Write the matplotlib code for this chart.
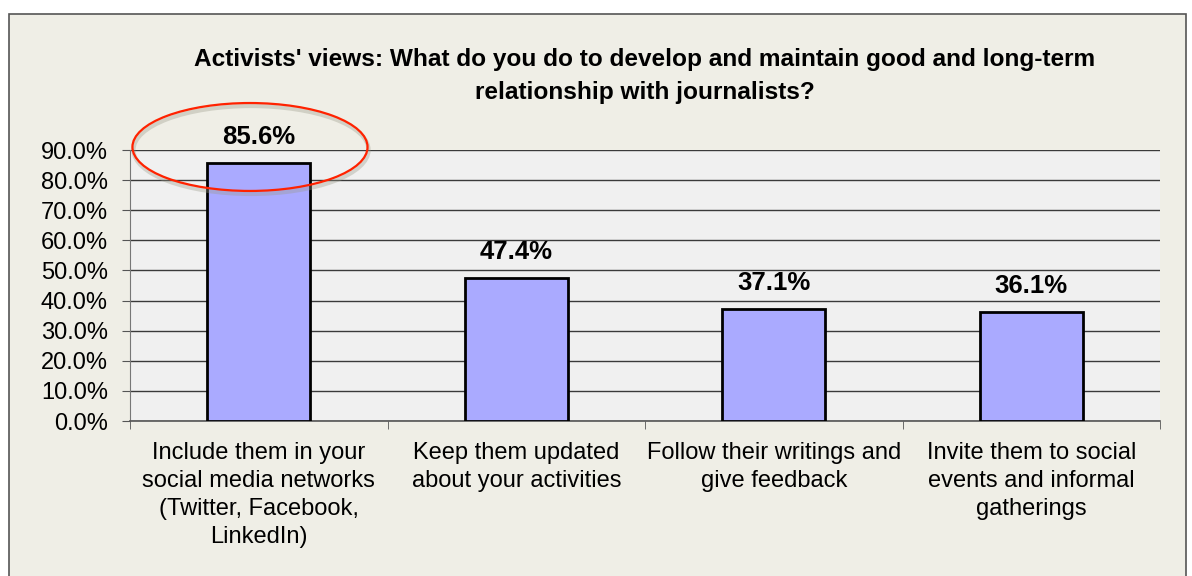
import matplotlib.pyplot as plt
from matplotlib.patches import Ellipse, Rectangle
from matplotlib.ticker import FuncFormatter, MultipleLocator

plt.rcParams['font.family'] = ['Liberation Sans', 'DejaVu Sans']

# ---------------- data ----------------
categories = [
    "Include them in your\nsocial media networks\n(Twitter, Facebook,\nLinkedIn)",
    "Keep them updated\nabout your activities",
    "Follow their writings and\ngive feedback",
    "Invite them to social\nevents and informal\ngatherings",
]
shares = [85.6, 47.4, 37.1, 36.1]
value_labels = ["85.6%", "47.4%", "37.1%", "36.1%"]

title = ("Activists' views: What do you do to develop and maintain good and long-term\n"
         "relationship with journalists?")

# ---------------- figure ----------------
fig = plt.figure(figsize=(11.92, 5.76), dpi=100)
fig.patch.set_facecolor("white")

# beige chart frame, kept behind the axes
frame = Rectangle((9 / 1192, -0.05), 1177 / 1192, 1.05 - 14 / 576,
                  transform=fig.transFigure, facecolor="#efeee6",
                  edgecolor="#555555", linewidth=1.2, zorder=-10)
fig.patches.append(frame)

ax = fig.add_axes([130 / 1192, 1 - 421 / 576, 1030 / 1192, 271 / 576])
ax.set_zorder(1)
ax.set_facecolor("#f0f0f0")

x = range(len(shares))
ax.bar(x, shares, width=0.4, color="#aaaaff", edgecolor="black",
       linewidth=2, zorder=3)

for i, (v, lab) in enumerate(zip(shares, value_labels)):
    ax.annotate(lab, (i, v), xytext=(0, 10), textcoords="offset points",
                ha="center", va="bottom", fontsize=18.5, fontweight="bold",
                color="black", zorder=5, annotation_clip=False)

ax.set_xlim(-0.5, 3.5)
ax.set_ylim(0, 90)
ax.yaxis.set_major_locator(MultipleLocator(10))
ax.yaxis.set_major_formatter(FuncFormatter(lambda v, p: f"{v:.1f}%"))
ax.grid(axis="y", color="#3a3a3a", linewidth=1, zorder=1)
ax.set_axisbelow(True)

ax.set_xticks(list(x))
ax.set_xticklabels(categories, fontsize=17, linespacing=1.35)
ax.set_xticks([-0.5, 0.5, 1.5, 2.5, 3.5], minor=True)
ax.tick_params(axis="x", which="major", length=0, pad=15)
ax.tick_params(axis="x", which="minor", length=6, color="#555555",
               direction="out")
ax.tick_params(axis="y", length=6, color="#555555", labelsize=17, pad=10)

for s in ["top", "right"]:
    ax.spines[s].set_visible(False)
ax.spines["left"].set_color("#777777")
ax.spines["bottom"].set_color("#555555")
ax.spines["bottom"].set_linewidth(1.2)

ax.set_title(title, fontsize=17.6, fontweight="bold", pad=37, linespacing=1.55)

# red highlight ring around the top value, with a soft shadow
ax.add_patch(Ellipse((-0.03, 90.0), 0.913, 29.2, fill=False,
                     edgecolor="#999988", linewidth=3, alpha=0.35,
                     clip_on=False, zorder=5))
ax.add_patch(Ellipse((-0.034, 91.0), 0.913, 29.2, fill=False,
                     edgecolor="#ff2200", linewidth=1.6,
                     clip_on=False, zorder=6))

fig.savefig("out.png", dpi=100, facecolor=fig.get_facecolor())
